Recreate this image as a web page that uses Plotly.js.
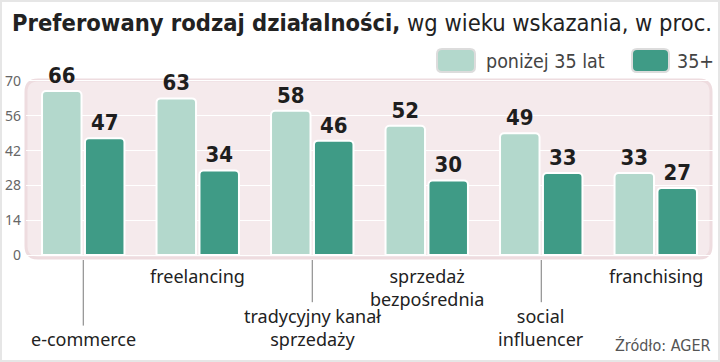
<!DOCTYPE html>
<html><head><meta charset="utf-8">
<script src="https://cdn.plot.ly/plotly-3.0.1.min.js"></script>
<style>
html,body{margin:0;padding:0;background:#fff}
#wrap{position:relative;width:720px;height:362px}
#chart{width:720px;height:362px}
#frame{position:absolute;left:0;top:0;width:720px;height:362px;box-sizing:border-box;border:2px solid #e6e6e6;pointer-events:none}
</style>
</head><body>
<div id="wrap"><div id="chart"></div><div id="frame"></div></div>
<script>
// ---- data ----
const categories = ['e-commerce','freelancing','tradycyjny kanał sprzedaży','sprzedaż bezpośrednia','social influencer','franchising'];
const categoryLabels = ['e-commerce','freelancing','tradycyjny kanał<br>sprzedaży','sprzedaż<br>bezpośrednia','social<br>influencer','franchising'];
const seriesNames = ['poniżej 35 lat','35+'];
const valuesUnder35 = [66,63,58,52,49,33];
const values35plus = [47,34,46,30,33,27];
const yTicks = [0,14,28,42,56,70];
const titleBold = 'Preferowany rodzaj działalności,';
const titleRest = ' wg wieku wskazania, w proc.';
const sourceText = 'Źródło: AGER';

// ---- style ----
const W = 720, H = 362;
const M = {l:26, r:7, t:79, b:104};
const colLight = '#b3d8cc', colDark = '#3f9b86';
const condFont = '"DejaVu Sans Condensed", sans-serif';
const labelFont = '"Noto Sans", "Open Sans", sans-serif';

const plotW = W - M.l - M.r, plotH = H - M.t - M.b;
const px2x = px => (px - M.l) / plotW;
const py2y = py => (H - M.b - py) / plotH;

function roundRect(x0,y0,x1,y1,r){
  const rx = r/plotW, ry = r/plotH;
  const a = px2x(x0), b = px2x(x1), top = py2y(y0), bot = py2y(y1);
  return `M${a+rx},${top} L${b-rx},${top} Q${b},${top} ${b},${top-ry} L${b},${bot+ry} Q${b},${bot} ${b-rx},${bot} L${a+rx},${bot} Q${a},${bot} ${a},${bot+ry} L${a},${top-ry} Q${a},${top} ${a+rx},${top} Z`;
}

const shapes = [];
const annotations = [];

// plot background (rounded)
shapes.push({type:'path', xref:'paper', yref:'paper', layer:'below',
  path: roundRect(M.l, M.t+1, W-M.r-2, H-M.b, 12),
  fillcolor:'#f5eaec', line:{color:'#eedcdf', width:3}});

// category labels (staggered, low ones with leader lines)
const lowRow = [true,false,true,false,true,false];
categories.forEach((c,i)=>{
  const nLines = categoryLabels[i].split('<br>').length;
  if (lowRow[i]) {
    annotations.push({x:c, xref:'x', yref:'paper', y:py2y(352), text:categoryLabels[i],
      showarrow:false, xanchor:'center', yanchor:'bottom', borderpad:0,
      font:{family:labelFont, size:18, color:'#222'}});
    const topPx = 352 - 23.4*nLines;
    shapes.push({type:'line', xref:'x', yref:'paper', x0:c, x1:c,
      y0:py2y(260), y1:py2y(topPx-3), line:{color:'#7a7a7a', width:1}});
  } else {
    annotations.push({x:c, xref:'x', yref:'paper', y:py2y(263), text:categoryLabels[i],
      showarrow:false, xanchor:'center', yanchor:'top', borderpad:0,
      font:{family:labelFont, size:18, color:'#222'}});
  }
});

// legend (manual)
const legendItems = [
  {box:[437,49,475,72], color:colLight, tx:484, name:seriesNames[0]},
  {box:[632,49,669,72], color:colDark, tx:675, name:seriesNames[1]}
];
legendItems.forEach(it=>{
  shapes.push({type:'path', xref:'paper', yref:'paper', layer:'above',
    path: roundRect(it.box[0],it.box[1],it.box[2],it.box[3],5),
    fillcolor: it.color, line:{color:'#dcdcdc', width:2}});
  annotations.push({xref:'paper', yref:'paper', x:px2x(it.tx), y:py2y(61), xanchor:'left', yanchor:'middle',
    text: it.name, showarrow:false, font:{family:condFont, size:19.5, color:'#444'}});
});

// source
annotations.push({xref:'paper', yref:'paper', x:px2x(713), y:py2y(345), xanchor:'right', yanchor:'middle',
  text: sourceText, showarrow:false, font:{family:condFont, size:16, color:'#555'}});

const valueFont = {family:condFont, size:22, color:'#1e1e1e', weight:'bold'};
const traces = [
  {type:'bar', x:categories, y:valuesUnder35, name:seriesNames[0],
   marker:{color:colLight, cornerradius:4, line:{color:'#ffffff', width:2}},
   texttemplate:'%{y}', textposition:'outside', textfont:valueFont, cliponaxis:false, hoverinfo:'skip'},
  {type:'bar', x:categories, y:values35plus, name:seriesNames[1],
   marker:{color:colDark, cornerradius:4, line:{color:'#ffffff', width:2}},
   texttemplate:'%{y}', textposition:'outside', textfont:valueFont, cliponaxis:false, hoverinfo:'skip'}
];

const yr0 = -3/(175/70), yr1 = 70 + 2/(175/70);
const layout = {
  width:W, height:H, margin:M,
  paper_bgcolor:'#ffffff', plot_bgcolor:'rgba(0,0,0,0)',
  showlegend:false, barmode:'group', bargap:0.25, bargroupgap:0.08,
  title:{text:'<b>'+titleBold+'</b>'+titleRest, xref:'container', yref:'container',
    x:712/W, xanchor:'right', y:1-23/H, yanchor:'middle',
    font:{family:condFont, size:23.5, color:'#222'}},
  xaxis:{type:'category', showticklabels:false, showgrid:false, zeroline:false, showline:false, ticks:''},
  yaxis:{range:[yr0, yr1], tickvals:yTicks, ticktext:yTicks.map(String), showgrid:true, gridcolor:'#ffffff', gridwidth:1,
    zeroline:false, showline:false, ticks:'', ticklabelstandoff:4,
    tickfont:{family:labelFont, size:14, color:'#666'}},
  shapes:shapes, annotations:annotations
};
Plotly.newPlot('chart', traces, layout, {staticPlot:true, displayModeBar:false});
</script>
</body></html>
